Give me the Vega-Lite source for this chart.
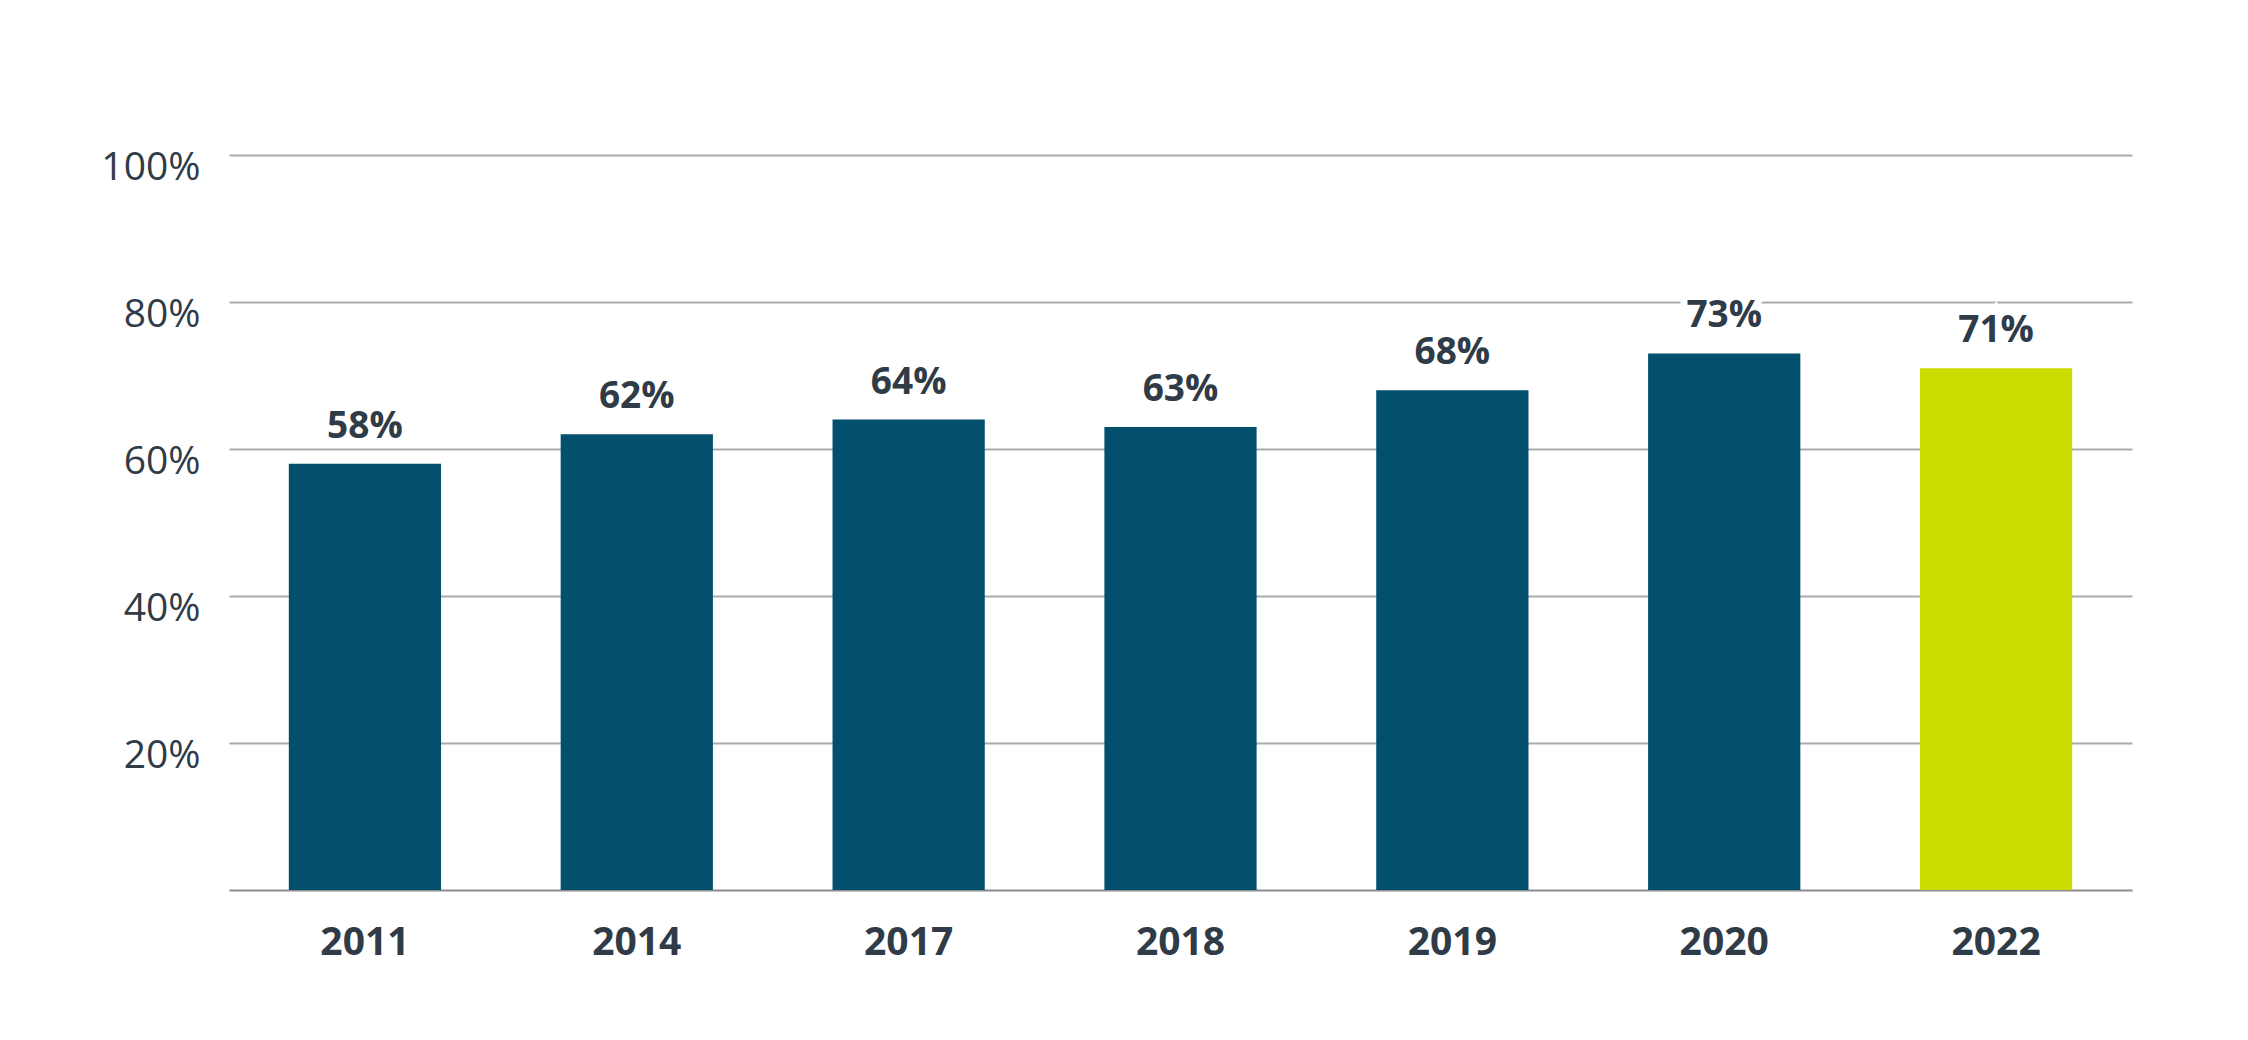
{
  "$schema": "https://vega.github.io/schema/vega-lite/v6.json",
  "width": 1903,
  "height": 735,
  "autosize": {"type": "none"},
  "padding": {"left": 229, "top": 155, "right": 116, "bottom": 150},
  "background": "white",
  "config": {
    "view": {"stroke": null},
    "font": "Open Sans"
  },
  "data": {
    "values": [
      {"year": "2011", "value": 0.58},
      {"year": "2014", "value": 0.62},
      {"year": "2017", "value": 0.64},
      {"year": "2018", "value": 0.63},
      {"year": "2019", "value": 0.68},
      {"year": "2020", "value": 0.73},
      {"year": "2022", "value": 0.71}
    ]
  },
  "encoding": {
    "x": {
      "field": "year",
      "type": "nominal",
      "sort": null,
      "scale": {"paddingInner": 0.44, "paddingOuter": 0.22},
      "axis": {
        "title": null,
        "labelAngle": 0,
        "ticks": false,
        "domain": true,
        "domainColor": "#8c8c8c",
        "domainWidth": 2,
        "labelFont": "Open Sans",
        "labelFontWeight": "bold",
        "labelFontSize": 39,
        "labelColor": "#2f3b47",
        "labelPadding": 33
      }
    },
    "y": {
      "field": "value",
      "type": "quantitative",
      "scale": {"domain": [0, 1]},
      "axis": {
        "title": null,
        "values": [0.2, 0.4, 0.6, 0.8, 1.0],
        "format": ".0%",
        "domain": false,
        "ticks": false,
        "grid": true,
        "gridColor": "#a8abae",
        "gridWidth": 2,
        "labelFont": "Open Sans",
        "labelFontSize": 39,
        "labelColor": "#2f3b47",
        "labelPadding": 29,
        "labelBaseline": "middle",
        "labelOffset": 12
      }
    }
  },
  "layer": [
    {
      "mark": {"type": "bar"},
      "encoding": {
        "color": {
          "condition": {"test": "datum.year === '2022'", "value": "#cddc00"},
          "value": "#02506e"
        }
      }
    },
    {
      "mark": {
        "type": "text",
        "baseline": "alphabetic",
        "dy": -26,
        "fontSize": 37,
        "fontWeight": "bold",
        "fill": "white",
        "stroke": "white",
        "strokeWidth": 14,
        "strokeJoin": "miter"
      },
      "encoding": {
        "text": {"field": "value", "type": "quantitative", "format": ".0%"}
      }
    },
    {
      "mark": {
        "type": "text",
        "baseline": "alphabetic",
        "dy": -26,
        "fontSize": 37,
        "fontWeight": "bold",
        "color": "#2f3b47"
      },
      "encoding": {
        "text": {"field": "value", "type": "quantitative", "format": ".0%"}
      }
    }
  ]
}
